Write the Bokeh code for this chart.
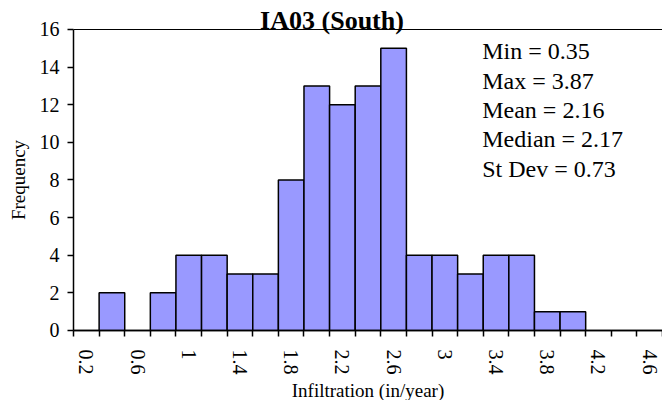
from bokeh.plotting import figure
from bokeh.models import Range1d, FixedTicker, Label, LinearAxis
from bokeh.embed import file_html
from bokeh.resources import INLINE

# Histogram bins (upper bounds, in/year) and counts
bins = ["0.2", "0.4", "0.6", "0.8", "1", "1.2", "1.4", "1.6", "1.8", "2", "2.2", "2.4",
        "2.6", "2.8", "3", "3.2", "3.4", "3.6", "3.8", "4", "4.2", "4.4", "4.6"]
freq = [0, 2, 0, 2, 4, 4, 3, 3, 8, 13, 12, 13, 15, 4, 4, 3, 4, 4, 1, 1, 0, 0, 0]
y_ticks = [0, 2, 4, 6, 8, 10, 12, 14, 16]
stats = ["Min = 0.35", "Max = 3.87", "Mean = 2.16", "Median = 2.17", "St Dev = 0.73"]
title_text = "IA03 (South)"

SERIF = "Liberation Serif"

n = len(bins)
xs = list(range(n))
x_lo, x_hi = -0.5, n - 0.5
y_lo, y_hi = 0, 16

W, H = 662, 400
p = figure(width=W, height=H, output_backend="svg", toolbar_location=None,
           x_range=Range1d(-3.351, x_hi), y_range=Range1d(-3.721, 17.5415),
           min_border=0)
p.background_fill_color = "white"
p.border_fill_color = "white"
p.outline_line_color = None
p.xgrid.visible = False
p.ygrid.visible = False

p.vbar(x=xs, top=freq, width=1.0, bottom=0, fill_color="#9999FF",
       line_color="black", line_width=1.5)

# X axis: labels every other bin, ticks at bin boundaries
major = xs[::2]
boundaries = [i - 0.5 for i in range(n + 1)]
xa = p.xaxis[0]
xa.fixed_location = y_lo
xa.bounds = (x_lo, x_hi)
xa.ticker = FixedTicker(ticks=major, minor_ticks=boundaries)
xa.major_label_overrides = {i: bins[i] for i in major}
xa.major_tick_out = 0
xa.major_tick_in = 0
xa.minor_tick_out = 6
xa.minor_tick_in = 0
xa.minor_tick_line_color = "black"
xa.minor_tick_line_width = 1.5
xa.major_label_orientation = "vertical"
xa.major_label_standoff = 13
xa.axis_label = "Infiltration (in/year)"
xa.axis_label_standoff = 2

ya = p.yaxis[0]
ya.fixed_location = x_lo
ya.bounds = (y_lo, y_hi)
ya.ticker = FixedTicker(ticks=y_ticks)
ya.major_tick_out = 6
ya.major_tick_in = 0
ya.minor_tick_out = 0
ya.minor_tick_in = 0
ya.major_label_standoff = 8
ya.axis_label = "Frequency"
ya.axis_label_standoff = 8

for ax in (xa, ya):
    ax.axis_line_color = "black"
    ax.axis_line_width = 1.5
    ax.major_tick_line_color = "black"
    ax.major_tick_line_width = 1.5
    ax.major_label_text_font = SERIF
    ax.major_label_text_font_size = "20px"
    ax.major_label_text_color = "black"
    ax.axis_label_text_font = SERIF
    ax.axis_label_text_font_size = "19px"
    ax.axis_label_text_font_style = "normal"
    ax.axis_label_text_color = "black"

# top border of the plot area
top = LinearAxis(fixed_location=y_hi, bounds=(x_lo, x_hi), ticker=FixedTicker(ticks=[]),
                 major_tick_out=0, major_tick_in=0, minor_tick_out=0, minor_tick_in=0,
                 axis_line_color="black", axis_line_width=1, major_label_text_color=None)
p.add_layout(top, "above")

p.add_layout(Label(x=9.594, y=16.48, text=title_text, text_font=SERIF, text_font_size="26px",
                   text_font_style="bold", text_align="center", text_baseline="alphabetic",
                   text_color="black"))

stat_y = [14.85, 13.26, 11.72, 10.18, 8.58]
for s, yy in zip(stats, stat_y):
    p.add_layout(Label(x=15.46, y=yy, text=s, text_font=SERIF, text_font_size="24px",
                       text_align="left", text_baseline="alphabetic", text_color="black"))

open("out.html", "w").write(file_html(p, INLINE))
